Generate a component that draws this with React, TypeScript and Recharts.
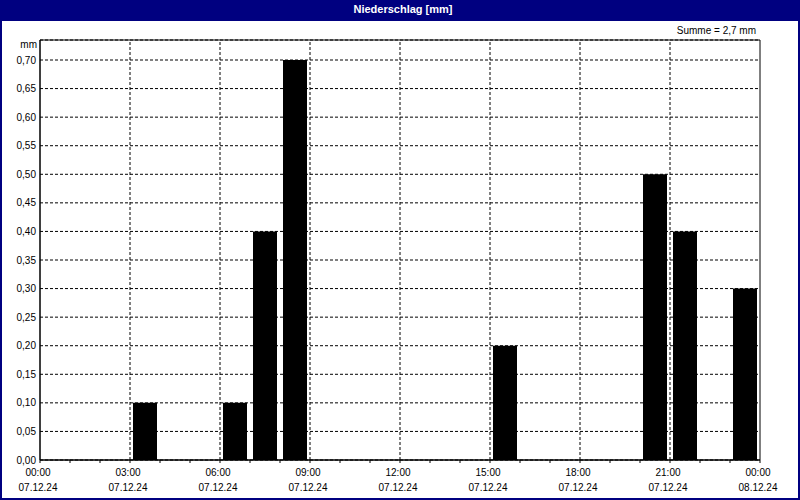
import React from "react";
import {
  BarChart,
  Bar,
  XAxis,
  YAxis,
  CartesianGrid,
  ReferenceLine,
  ReferenceArea,
} from "recharts";

// Hour slots (start hour of each hourly interval on 07.12.24)
const hourStarts = [0, 1, 2, 3, 4, 5, 6, 7, 8, 9, 10, 11, 12, 13, 14, 15, 16, 17, 18, 19, 20, 21, 22, 23];
// Precipitation per hour in mm
const precipitation = [0, 0, 0, 0.1, 0, 0, 0.1, 0.4, 0.7, 0, 0, 0, 0, 0, 0, 0.2, 0, 0, 0, 0, 0.5, 0.4, 0, 0.3];

// Axis ticks
const xMinorTicks = [0, 1, 2, 3, 4, 5, 6, 7, 8, 9, 10, 11, 12, 13, 14, 15, 16, 17, 18, 19, 20, 21, 22, 23, 24];
const xMajorTicks = [0, 3, 6, 9, 12, 15, 18, 21, 24];
const xTimeLabels = ["00:00", "03:00", "06:00", "09:00", "12:00", "15:00", "18:00", "21:00", "00:00"];
const xDateLabels = ["07.12.24", "07.12.24", "07.12.24", "07.12.24", "07.12.24", "07.12.24", "07.12.24", "07.12.24", "08.12.24"];
const xGridLines = [3, 6, 9, 12, 15, 18, 21];
const yTicks = [0, 0.05, 0.1, 0.15, 0.2, 0.25, 0.3, 0.35, 0.4, 0.45, 0.5, 0.55, 0.6, 0.65, 0.7];
const yMax = 0.735;

const title = "Niederschlag [mm]";
const sumLabel = "Summe = 2,7 mm";
const unitLabel = "mm";

const data = hourStarts.map((h, i) => ({ x: h + 0.5, value: precipitation[i] }));

const FONT = "'Liberation Sans', Arial, sans-serif";

const XTick = (props: any) => {
  const { x, y, payload } = props;
  const idx = xMajorTicks.indexOf(payload.value);
  if (idx < 0) return <g />;
  return (
    <g>
      <text x={x - 2} y={y + 13} textAnchor="middle" fontSize={10} fontFamily={FONT} fill="#000">
        {xTimeLabels[idx]}
      </text>
      <text x={x - 2} y={y + 28} textAnchor="middle" fontSize={10} fontFamily={FONT} fill="#000">
        {xDateLabels[idx]}
      </text>
    </g>
  );
};

const fmtY = (v: number) => v.toFixed(2).replace(".", ",");

export default function App() {
  return (
    <div
      style={{
        position: "absolute",
        left: 0,
        top: 0,
        width: 800,
        height: 500,
        background: "#fff",
        fontFamily: FONT,
      }}
    >
      <BarChart
        width={800}
        height={500}
        data={data}
        margin={{ top: 40, right: 40, bottom: 0, left: 0 }}
        barCategoryGap="20%"
      >
        <CartesianGrid
          vertical={false}
          stroke="#000"
          strokeDasharray="3 2"
          strokeWidth={1}
        />
        {xGridLines.map((v) => (
          <ReferenceLine key={v} x={v} stroke="#000" strokeDasharray="3 2" strokeWidth={1} />
        ))}
        <XAxis
          dataKey="x"
          type="number"
          domain={[0, 24]}
          ticks={xMinorTicks}
          interval={0}
          height={40}
          tickSize={3}
          tickMargin={0}
          axisLine={{ stroke: "#000" }}
          tickLine={{ stroke: "#000" }}
          tick={<XTick />}
        />
        <YAxis
          type="number"
          domain={[0, yMax]}
          ticks={yTicks}
          interval={0}
          width={40}
          tickSize={4}
          tickMargin={0}
          tickLine={false}
          axisLine={{ stroke: "#000" }}
          tickFormatter={fmtY}
          tick={{ fontSize: 10, fontFamily: FONT, fill: "#000" }}
          allowDataOverflow
        />
        <Bar dataKey="value" fill="#000" barSize={24} isAnimationActive={false} />
        <ReferenceArea x1={0} x2={24} y1={0} y2={yMax} fill="none" stroke="#000" strokeWidth={1} ifOverflow="visible" />
      </BarChart>
      <div
        style={{
          position: "absolute",
          left: 0,
          top: 0,
          width: 800,
          height: 21,
          background: "#000080",
          color: "#fff",
          fontWeight: "bold",
          fontSize: 11,
          lineHeight: "19px",
          textAlign: "center",
          paddingLeft: 6,
          boxSizing: "border-box",
        }}
      >
        {title}
      </div>
      <div
        style={{
          position: "absolute",
          right: 44,
          top: 25,
          fontSize: 10,
          lineHeight: "12px",
          color: "#000",
          whiteSpace: "nowrap",
        }}
      >
        {sumLabel}
      </div>
      <div
        style={{
          position: "absolute",
          right: 763,
          top: 39,
          fontSize: 10,
          lineHeight: "12px",
          color: "#000",
        }}
      >
        {unitLabel}
      </div>
      <div
        style={{
          position: "absolute",
          left: 0,
          top: 0,
          width: 800,
          height: 500,
          border: "2px solid #000080",
          boxSizing: "border-box",
          pointerEvents: "none",
        }}
      />
    </div>
  );
}
